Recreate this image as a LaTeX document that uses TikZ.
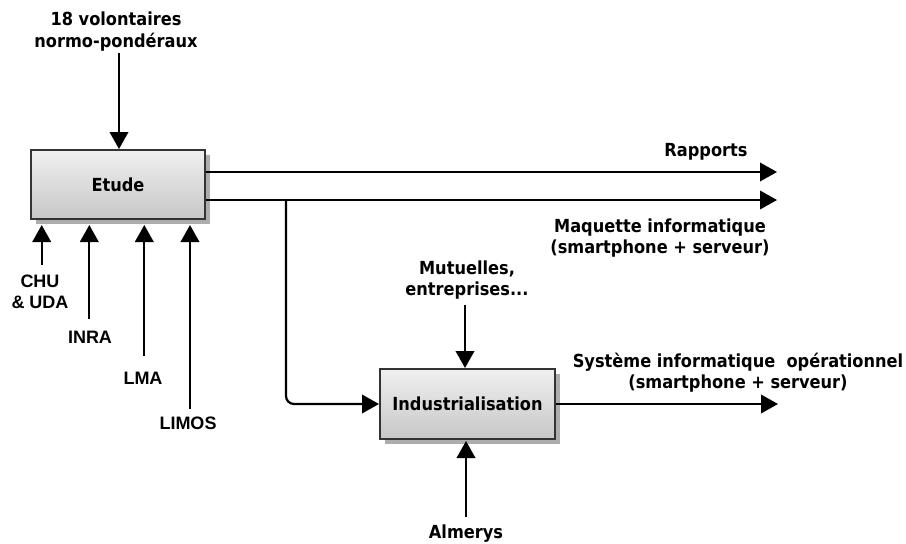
\documentclass[tikz,border=0pt]{standalone}
\usepackage{fontspec}
\newfontfamily\labfontraw{DejaVu Sans Condensed}
\newcommand\labfont{\labfontraw\bfseries}
\newfontfamily\arbfont{Liberation Sans}
\usetikzlibrary{arrows.meta,shadows}
\tikzset{
  box/.style={draw=black!80, line width=2pt, top color=black!6, bottom color=black!22,
    minimum width=174pt, minimum height=69pt, inner sep=0pt,
    drop shadow={shadow xshift=5pt, shadow yshift=-5pt, fill=black!32, opacity=1},
    font=\labfont\fontsize{18}{22}\selectfont},
  lab/.style={align=center, inner sep=0pt, font=\labfont\fontsize{18}{21}\selectfont},
  org/.style={align=center, inner sep=0pt, font=\arbfont\bfseries\fontsize{18}{21}\selectfont},
  arr/.style={line width=2.2pt, -{Triangle[length=17pt,width=18.5pt]}},
}
\begin{document}
\begin{tikzpicture}[x=1pt,y=-1pt]
\useasboundingbox (0,0) rectangle (906,544);
% boxes
\node[box] (etude) at (118,184.5) {Etude};
\node[box, minimum width=175pt, minimum height=70pt] (ind) at (467.5,404) {Industrialisation};
% labels
\node[lab, font=\labfont\fontsize{18}{22}\selectfont] (vol) at (116,32) {18 volontaires\\normo-pondéraux};
\node[lab] (rap) at (706,151.5) {Rapports};
\node[lab] (maq) at (660,238) {Maquette informatique\\(smartphone + serveur)};
\node[lab] (mut) at (467,280) {Mutuelles,\\entreprises...};
\node[lab] (alm) at (466,534) {Almerys};
\node[lab] (sys) at (738,373) {Système informatique\ \ opérationnel\\(smartphone + serveur)};
\node[org] (chu) at (40,292) {CHU\\\& UDA};
\node[org] (inra) at (90,337) {INRA};
\node[org] (lma) at (143,378) {LMA};
\node[org] (limos) at (188,423) {LIMOS};
% coordinates
\coordinate (volS) at (119,53);
\coordinate (tipline) at (0,225);
\coordinate (c1s) at (41.7,265);
\coordinate (c2s) at (89.3,319);
\coordinate (c3s) at (144.3,356);
\coordinate (c4s) at (190,409);
\coordinate (rapE) at (777,172);
\coordinate (maqE) at (777,200);
\coordinate (br) at (286,200);
\coordinate (mutS) at (465,305);
\coordinate (almS) at (466,517);
\coordinate (almT) at (466,441);
\coordinate (outE) at (778,404);
% connectors
\draw[arr] (volS) -- (volS |- etude.north);
\draw[arr] (c1s) -- (c1s |- tipline);
\draw[arr] (c2s) -- (c2s |- tipline);
\draw[arr] (c3s) -- (c3s |- tipline);
\draw[arr] (c4s) -- (c4s |- tipline);
\draw[arr] (etude.east |- rapE) -- (rapE);
\draw[arr] (etude.east |- maqE) -- (maqE);
\draw[arr, rounded corners=8pt] (br) |- (ind.west);
\draw[arr] (mutS) -- (mutS |- ind.north);
\draw[arr] (almS) -- (almT);
\draw[arr] (ind.east) -- (outE);
\end{tikzpicture}
\end{document}
